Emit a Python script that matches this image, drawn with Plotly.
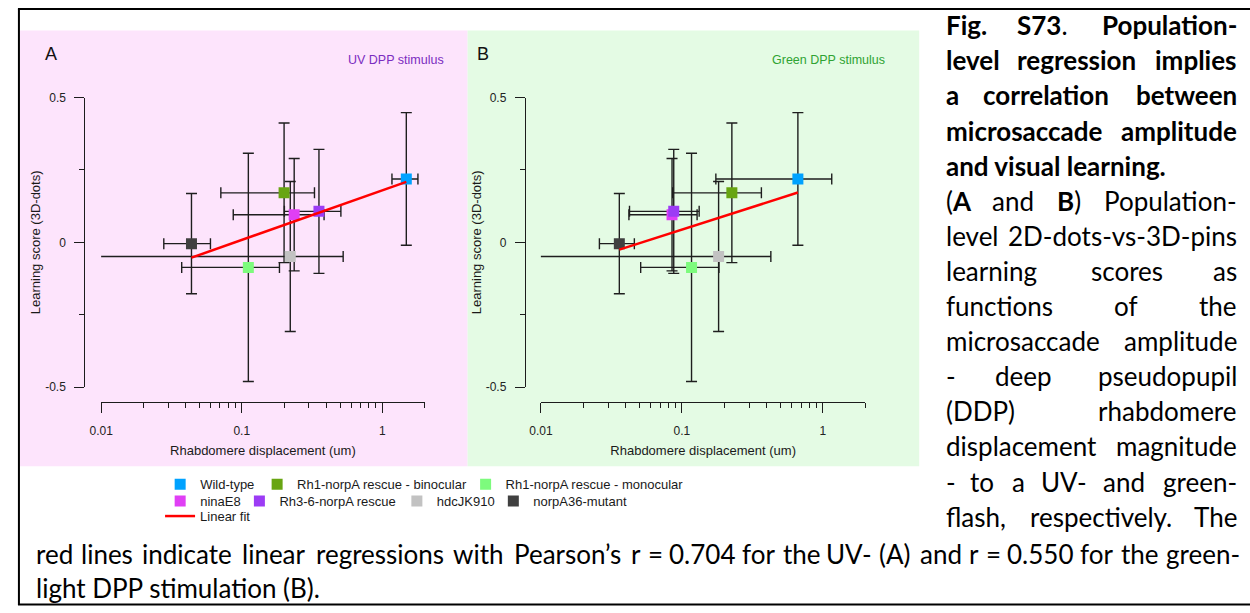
import re
import math
import plotly.graph_objects as go

W, H = 1250, 613


def px(x):
    return x / W


def py(y):
    return 1 - y / H


# ---------------- data ----------------
groups = ["Wild-type", "Rh1-norpA rescue - binocular", "Rh1-norpA rescue - monocular",
          "ninaE8", "Rh3-6-norpA rescue", "hdcJK910", "norpA36-mutant"]
colors = ["#00a2ff", "#68a512", "#7dfb7d", "#e03ff5", "#9c3cf5", "#c2c2c2", "#404040"]

learning_score = [0.219, 0.171, -0.0865, 0.0955, 0.107, -0.049, -0.0045]
learning_err = [0.229, 0.241, 0.394, 0.194, 0.214, 0.259, 0.173]

uv_disp = [1.48, 0.200, 0.1114, 0.236, 0.354, 0.2213, 0.0439]
uv_disp_err = [0.31, 0.129, 0.074, 0.149, 0.153, 0.305, 0.016]
green_disp = [0.664, 0.226, 0.117, 0.0851, 0.0875, 0.182, 0.0360]
green_disp_err = [0.49, 0.14, 0.066, 0.043, 0.045, 0.245, 0.010]

uv_fit_x = [0.0439, 1.48]
uv_fit_y = [-0.053, 0.209]
green_fit_x = [0.0360, 0.664]
green_fit_y = [-0.025, 0.172]

x_tick_vals = [0.01, 0.1, 1]
x_tick_text = ["0.01", "0.1", "1"]
x_minor_vals = [0.02, 0.03, 0.04, 0.05, 0.06, 0.07, 0.08, 0.09,
                0.2, 0.3, 0.4, 0.5, 0.6, 0.7, 0.8, 0.9, 2]
x_limits = [0.01, 2]
y_tick_vals = [-0.5, 0, 0.5]
y_tick_text = ["-0.5", "0", "0.5"]
y_minor_vals = [-0.25, 0.25]
y_limits = [-0.5, 0.5]

# ---------------- styles / layout positions ----------------
AX = "#1c1c1c"
ERR = "#1e1e1e"
SANS = "Liberation Sans, Arial, sans-serif"
CAP = "Lato, Carlito, sans-serif"

# legend entry placement (symbol centre x, row y) in pixels, one legend box per entry
legend_pos = [(169.6, 488.5), (267.5, 488.5), (478.0, 488.5),
              (169.6, 505.5), (249.6, 505.5), (408.6, 505.5), (506.0, 505.5)]
fit_legend_pos = (169.5, 521.0)

fig = go.Figure()

panels = [
    dict(xd=uv_disp, xe=uv_disp_err, fx=uv_fit_x, fy=uv_fit_y, xa="x", ya="y", leg=True),
    dict(xd=green_disp, xe=green_disp_err, fx=green_fit_x, fy=green_fit_y, xa="x2", ya="y2", leg=False),
]

for p in panels:
    # error bars layer (drawn beneath the markers)
    fig.add_trace(go.Scatter(
        x=p["xd"], y=learning_score, mode="markers",
        marker=dict(size=1, opacity=0),
        error_x=dict(type="data", array=p["xe"], symmetric=True, color=ERR, thickness=1.4, width=5.5),
        error_y=dict(type="data", array=learning_err, symmetric=True, color=ERR, thickness=1.4, width=5.5),
        xaxis=p["xa"], yaxis=p["ya"], showlegend=False, hoverinfo="skip"))
    for i, g in enumerate(groups):
        fig.add_trace(go.Scatter(
            x=[p["xd"][i]], y=[learning_score[i]], mode="markers", name=g,
            marker=dict(symbol="square", size=11, color=colors[i], line=dict(width=0)),
            xaxis=p["xa"], yaxis=p["ya"], showlegend=p["leg"],
            legend="legend" if i == 0 else f"legend{i + 1}"))
    fig.add_trace(go.Scatter(
        x=p["fx"], y=p["fy"], mode="lines", name="Linear fit",
        line=dict(color="#ff0000", width=2.5),
        xaxis=p["xa"], yaxis=p["ya"], showlegend=p["leg"], legend="legend8"))


def xaxis_cfg(x0, x1):
    return dict(
        type="log", range=[math.log10(x_limits[0]), math.log10(x_limits[1])],
        domain=[px(x0), px(x1)], anchor="free", position=py(404.5),
        showline=True, linecolor=AX, linewidth=1, showgrid=False, zeroline=False,
        ticks="outside", ticklen=10, tickwidth=1, tickcolor=AX,
        tickmode="array", tickvals=x_tick_vals, ticktext=x_tick_text,
        minor=dict(ticks="outside", ticklen=5, tickwidth=1, tickcolor=AX,
                   tickmode="array", tickvals=x_minor_vals, showgrid=False),
        tickfont=dict(family=SANS, size=12, color="#222"), ticklabelstandoff=7,
        title=dict(text="Rhabdomere displacement (um)", font=dict(family=SANS, size=13, color="#1a1a1a"),
                   standoff=9),
    )


def yaxis_cfg(xpos):
    return dict(
        range=y_limits, domain=[py(389), py(92.7)], anchor="free", position=px(xpos),
        showline=True, linecolor=AX, linewidth=1, showgrid=False, zeroline=False,
        ticks="outside", ticklen=10, tickwidth=1, tickcolor=AX,
        tickmode="array", tickvals=y_tick_vals, ticktext=y_tick_text,
        minor=dict(ticks="outside", ticklen=5, tickwidth=1, tickcolor=AX,
                   tickmode="array", tickvals=y_minor_vals, showgrid=False),
        tickfont=dict(family=SANS, size=12, color="#222"), ticklabelstandoff=6,
        title=dict(text="Learning score (3D-dots)", font=dict(family=SANS, size=13, color="#1a1a1a"),
                   standoff=0),
    )


def legend_cfg(cx, cy):
    return dict(orientation="h", xanchor="left", yanchor="middle", bgcolor="rgba(0,0,0,0)",
                font=dict(family=SANS, size=13, color="#1a1a1a"), itemwidth=30,
                x=px(cx - 20), y=py(cy))


legends = {}
for i, (cx, cy) in enumerate(legend_pos):
    legends["legend" if i == 0 else f"legend{i + 1}"] = legend_cfg(cx, cy)
legends["legend8"] = legend_cfg(*fit_legend_pos)

shapes = [
    dict(type="rect", xref="paper", yref="paper", x0=px(8), x1=px(460), y0=py(470), y1=py(24),
         fillcolor="#fde4fc", line=dict(width=0), layer="below"),
    dict(type="rect", xref="paper", yref="paper", x0=px(460), x1=px(916), y0=py(470), y1=py(24),
         fillcolor="#e4fbe4", line=dict(width=0), layer="below"),
    dict(type="line", xref="paper", yref="paper", x0=px(6), x1=px(1250), y0=py(2), y1=py(2),
         line=dict(color="#000", width=2)),
    dict(type="line", xref="paper", yref="paper", x0=px(7), x1=px(7), y0=py(2), y1=py(611.5),
         line=dict(color="#000", width=2)),
    dict(type="line", xref="paper", yref="paper", x0=px(6), x1=px(1250), y0=py(611.5), y1=py(611.5),
         line=dict(color="#000", width=2)),
]

annotations = [
    dict(text="A", x=px(39), y=py(48), xanchor="center", yanchor="middle",
         font=dict(family=SANS, size=18, color="#111")),
    dict(text="B", x=px(476), y=py(48), xanchor="center", yanchor="middle",
         font=dict(family=SANS, size=18, color="#111")),
    dict(text="UV DPP stimulus", x=px(438), y=py(54.5), xanchor="right", yanchor="middle",
         font=dict(family=SANS, size=12.5, color="#7b2cc0")),
    dict(text="Green DPP stimulus", x=px(883), y=py(54.5), xanchor="right", yanchor="middle",
         font=dict(family=SANS, size=12.5, color="#2fa332")),
]

# ---------------- caption (justified text) ----------------
CAL = {" ": 463, "(": 621, ")": 621, ",": 511, "-": 627, ".": 517, "=": 1038, "’": 511,
       "A": 1185, "B": 1114, "D": 1260, "F": 941, "P": 1058, "S": 941, "T": 998, "U": 1292, "V": 1165,
       "a": 981, "b": 1076, "c": 866, "d": 1076, "e": 1019, "f": 625, "g": 964, "h": 1076, "i": 470,
       "j": 490, "k": 931, "l": 470, "m": 1636, "n": 1076, "o": 1080, "p": 1076, "q": 1076, "r": 714,
       "s": 801, "t": 686, "u": 1076, "v": 925, "w": 1464, "x": 887, "y": 927, "z": 809}


def tok_width(tok, size=29.0):
    w, bold = 0.0, False
    for part in re.split(r"(</?b>)", tok):
        if part == "<b>":
            bold = True
        elif part == "</b>":
            bold = False
        else:
            w += sum(CAL.get(c, 1038) for c in part) / 2048 * size * (1.02 if bold else 1.0)
    return w


caption_right = [
    "<b>Fig.</b>|<b>S73</b>.|<b>Population-</b>",
    "<b>level</b>|<b>regression</b>|<b>implies</b>",
    "<b>a</b>|<b>correlation</b>|<b>between</b>",
    "<b>microsaccade</b>|<b>amplitude</b>",
    "<b>and visual learning.</b>",
    "(<b>A</b>|and|<b>B</b>)|Population-",
    "level|2D-dots-vs-3D-pins",
    "learning|scores|as",
    "functions|of|the",
    "microsaccade|amplitude",
    "-|deep|pseudopupil",
    "(DDP)|rhabdomere",
    "displacement|magnitude",
    "-|to|a|UV-|and|green-",
    "flash,|respectively.|The",
]
caption_bottom = [
    "red|lines|indicate|linear|regressions|with|Pearson’s|r|=|0.704|for|the|UV-|(A)|and|r|=|0.550|for|the|green-",
    "light DPP stimulation (B).",
]

CAP_SIZE = 26


def place_line(line, left, right, yc):
    toks = line.split("|")
    yy = py(yc - 3.4)
    if len(toks) == 1:
        annotations.append(dict(text=toks[0], x=px(left), y=yy, xanchor="left", yanchor="middle",
                                font=dict(family=CAP, size=CAP_SIZE, color="#000")))
        return
    ws = [tok_width(t) for t in toks]
    gap = (right - left - sum(ws)) / (len(toks) - 1)
    x = left
    for i, (t, w) in enumerate(zip(toks, ws)):
        if i == 0:
            xa, xv = "left", left
        elif i == len(toks) - 1:
            xa, xv = "right", right
        else:
            xa, xv = "center", x + w / 2
        annotations.append(dict(text=t, x=px(xv), y=yy, xanchor=xa, yanchor="middle",
                                font=dict(family=CAP, size=CAP_SIZE, color="#000")))
        x += w + gap


for i, ln in enumerate(caption_right):
    place_line(ln, 941.5, 1238.5, 22 + 35.93 * i)
place_line(caption_bottom[0], 22, 1242, 563)
place_line(caption_bottom[1], 22, 1242, 598)

for a in annotations:
    a.setdefault("xref", "paper")
    a.setdefault("yref", "paper")
    a.setdefault("showarrow", False)

fig.update_layout(
    width=W, height=H, margin=dict(l=0, r=0, t=0, b=0),
    paper_bgcolor="#ffffff", plot_bgcolor="rgba(0,0,0,0)",
    xaxis=xaxis_cfg(90, 416.7), yaxis=yaxis_cfg(73),
    xaxis2=xaxis_cfg(534, 861.7), yaxis2=yaxis_cfg(517.7),
    showlegend=True,
    shapes=shapes, annotations=annotations,
    font=dict(family=SANS),
    **legends,
)

fig.write_html("out.html", config={"displayModeBar": False},
               post_script="document.body.style.margin='0px';document.body.style.overflow='hidden';")
